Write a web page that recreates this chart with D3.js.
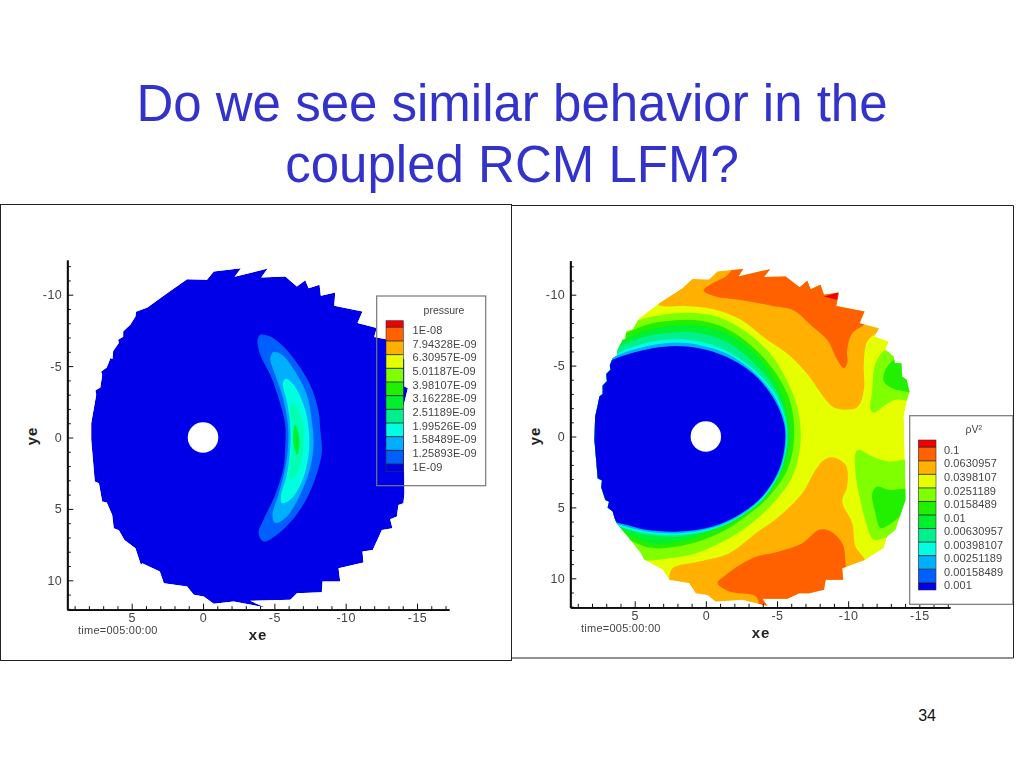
<!DOCTYPE html>
<html><head><meta charset="utf-8">
<style>html,body{margin:0;padding:0;background:#fff}svg{display:block}text{font-family:"Liberation Sans",Arial,sans-serif}</style>
<script src="https://cdnjs.cloudflare.com/ajax/libs/d3/7.8.5/d3.min.js"></script>
</head><body><svg id="c" width="1024" height="768"></svg>
<script>
const titleLines = ["Do we see similar behavior in the", "coupled RCM LFM?"];
const pageNumber = "34";
const timeLabel = "time=005:00:00";
const xMajorTicks = [5,0,-5,-10,-15];
const yMajorTicks = [-10,-5,0,5,10];
const pressureLevels = ["1E-08","7.94328E-09","6.30957E-09","5.01187E-09","3.98107E-09","3.16228E-09","2.51189E-09","1.99526E-09","1.58489E-09","1.25893E-09","1E-09"];
const rhoV2Levels = ["0.1","0.0630957","0.0398107","0.0251189","0.0158489","0.01","0.00630957","0.00398107","0.00251189","0.00158489","0.001"];
const bandColors = ["#f00000","#ff6000","#ffb000","#e6ff00","#80ff00","#20f000","#00f030","#00f090","#00ffe0","#00b0ff","#0060ff","#0000e8"];

// left field: pressure (xe, ye)
const pressureOutline = [[-0.75,-11.62],[-2.66,-11.86],[-2.22,-11.25],[-4.53,-11.83],[-4.08,-11.2],[-5.77,-11.27],[-6.58,-10.57],[-7.17,-11.02],[-7.4,-10.46],[-8.17,-10.69],[-8.26,-9.92],[-9.27,-10.15],[-9.2,-9.22],[-11.18,-8.82],[-10.83,-8.01],[-12.18,-7.66],[-12,-7.03],[-13,-6.84],[-14.12,-5.44],[-14.12,-3.57],[-14.36,-3.45],[-14.05,-2.17],[-14.12,3.9],[-14.05,4.6],[-13.7,4.72],[-13.59,5.53],[-13.12,5.72],[-13.28,6.35],[-12.54,6.47],[-11.9,7.87],[-11.18,7.98],[-11.25,8.75],[-9.5,9.15],[-9.62,10.08],[-8.38,10.08],[-8.33,10.83],[-6.58,10.9],[-6.12,11.37],[-3.31,11.44],[-4.37,11.9],[-2.15,11.48],[-0.75,11.65],[-0.05,11.13],[0.65,11.02],[1.12,10.43],[2.75,10.2],[3.03,9.38],[4.27,8.8],[4.35,8.95],[4.74,7.75],[5.51,7.17],[5.9,6.5],[6.26,6.35],[6.37,5.42],[6.75,4.55],[7.07,4.48],[7.3,3.2],[7.59,3.08],[7.84,0.16],[7.84,-1],[7.49,-2.99],[7.55,-3.3],[7.2,-3.5],[7.07,-4.39],[7.15,-4.6],[6.75,-4.9],[6.49,-5.56],[6.35,-5.5],[6.3,-6.05],[5.91,-6.61],[5.95,-6.85],[5.6,-7.05],[5.6,-7.42],[5.1,-7.9],[4.74,-8.47],[4.7,-8.8],[3.9,-9.1],[2.52,-10.11],[1.12,-11.09],[-0.28,-11.04]];
const pressureBand10 = [[-3.82,-6.84],[-4.01,-7.19],[-4.71,-7.07],[-5.64,-6.37],[-6.58,-5.21],[-7.51,-3.69],[-8.1,-1.82],[-8.21,-0.66],[-8.33,0.98],[-8.1,2.14],[-7.4,4.01],[-6.46,5.53],[-5.18,6.81],[-4.24,7.28],[-3.89,6.69],[-4.24,5.76],[-5.06,4.01],[-5.64,2.14],[-5.76,0.74],[-5.76,-0.89],[-5.29,-2.76],[-4.71,-4.39],[-4.01,-5.79]];
const pressureBand9 = [[-4.71,-5.56],[-4.95,-5.98],[-5.53,-5.79],[-6.46,-4.62],[-7.28,-2.99],[-7.63,-1.12],[-7.75,0.51],[-7.51,2.14],[-6.81,4.01],[-5.88,5.53],[-5.06,5.99],[-4.87,5.41],[-5.29,4.01],[-5.76,2.14],[-5.95,0.74],[-5.95,-0.89],[-5.6,-2.76],[-5.06,-4.39]];
const pressureBand8 = [[-5.6,-3.81],[-5.81,-4.11],[-6.35,-3.69],[-7.05,-2.29],[-7.4,-0.66],[-7.4,1.21],[-6.93,3.08],[-6.11,4.36],[-5.53,4.59],[-5.46,4.13],[-5.88,2.61],[-6.11,0.74],[-6.11,-0.89],[-5.88,-2.52]];
const pressureBand7 = [[-6.11,-2.29],[-6.35,-2.41],[-6.81,-1.59],[-7.05,-0.19],[-6.93,1.44],[-6.46,2.73],[-6.11,2.89],[-6.11,1.91],[-6.3,0.51],[-6.23,-0.89]];
const pressureBand6 = [[-6.46,-0.89],[-6.76,0.16],[-6.62,1.21],[-6.3,0.28]];

// right field: rho V^2 (xe, ye)
const rhoOutline = [[-0.82,-11.64],[-2.62,-11.82],[-2.29,-11.28],[-4.51,-11.8],[-4.09,-11.24],[-5.61,-11.28],[-6.59,-10.53],[-7.13,-10.98],[-7.36,-10.39],[-8.06,-10.7],[-8.3,-9.99],[-9.35,-10.15],[-9.16,-9.21],[-11.15,-8.82],[-10.8,-7.99],[-12.16,-7.64],[-11.87,-7.05],[-12.86,-6.7],[-12.62,-6.11],[-13.21,-5.64],[-13.28,-5.17],[-13.74,-5.17],[-13.79,-4.23],[-14.1,-4],[-14.31,-3.17],[-14.14,-2.59],[-13.91,-1.41],[-13.98,1.18],[-14.03,4.47],[-13.79,5.17],[-13.32,6.58],[-12.74,7.05],[-12.51,7.87],[-11.22,8.7],[-9.58,9.29],[-9.65,10.11],[-8.42,10.11],[-8.3,10.81],[-7.25,11.05],[-6.55,11.05],[-5.73,11.45],[-3.97,11.45],[-4.32,11.94],[-2.57,11.52],[-0.7,11.64],[-0.12,11.17],[0.7,11.05],[1.17,10.34],[2.57,10.11],[3.04,9.4],[4.32,8.7],[4.56,8.23],[5.49,7.05],[6.26,6.11],[6.4,5.8],[6.55,5.29],[6.9,5],[6.8,4.6],[7.06,4.47],[7.35,3.6],[7.3,3.1],[7.6,2.94],[7.83,0.24],[7.78,-1.41],[7.6,-2.2],[7.48,-2.82],[7.25,-3],[7.25,-3.6],[6.95,-3.9],[7,-4.4],[6.7,-4.7],[6.75,-5],[6.55,-5.52],[6.2,-5.75],[6.2,-6.1],[5.84,-6.82],[5.65,-6.85],[5.61,-7.4],[5.15,-7.55],[4.68,-8.35],[3.27,-9.4],[1.64,-10.46],[0.94,-11.1],[-0.23,-11.05]];
const rhoOrangeTop = [[3.39,-9.36],[1.4,-9.21],[-0.47,-9],[-2.34,-8.3],[-4.21,-6.9],[-5.84,-5.75],[-7.13,-4.4],[-8.42,-2.6],[-9.12,-2],[-10.64,-2.07],[-11.1,-3.29],[-11.1,-5.17],[-11.34,-6.7],[-12.27,-7.64],[-12.62,-9.64],[-2.81,-13.16],[3.04,-11.99]];
const rhoOrangeBottom = [[2.34,9.29],[0.47,8.82],[-1.64,8.23],[-3.51,6.82],[-5.14,5.64],[-6.78,4],[-7.71,2.35],[-8.3,1.65],[-8.88,1.46],[-9.82,2],[-9.93,3.53],[-9.58,4.58],[-10.29,6.11],[-10.52,7.76],[-11.22,8.82],[-11.22,11.52],[-2.81,12.46],[2.34,10.81],[2.57,9.99]];
const rhoDeepTop = [[0.16,-10.3],[-0.47,-10.81],[-1.4,-11.28],[-2.81,-12.69],[-9.82,-12.46],[-11.92,-9.64],[-11.22,-7.99],[-10.29,-7.29],[-9.93,-6.11],[-9.93,-5.17],[-9.7,-4.82],[-9.23,-5.41],[-8.53,-6.82],[-7.48,-7.76],[-6.08,-8.93],[-4.68,-9.21],[-2.34,-9.64],[-0.7,-9.87]];
const rhoDeepBottom = [[-0.82,10.34],[-1.4,9.76],[-3.27,8.58],[-5.14,8.11],[-6.78,7.52],[-7.95,6.58],[-8.65,6.63],[-9.58,7.52],[-9.82,8.93],[-9.82,10.34],[-7.48,12.46],[-3.97,12.46],[-3.51,11.28],[-1.64,10.93]];
const rhoRedPatch = [[-8.3,-9.87],[-9.3,-10.15],[-9.23,-9.64],[-8.88,-9.71]];
const rhoLimeUpper = [[-11.57,-1.88],[-11.69,-3.29],[-11.8,-4.7],[-12.16,-5.64],[-12.62,-6.11],[-13.28,-6.23],[-14.49,-4.94],[-14.49,-2.63],[-13.32,-2.59],[-12.62,-2.23],[-11.8,-1.69]];
const rhoGreenUpper = [[-12.51,-3.88],[-12.62,-4.7],[-13.32,-5.41],[-14.73,-4.47],[-14.73,-3.06],[-14.03,-3.17],[-13.09,-3.41]];
const rhoLimeLower = [[-10.52,1.18],[-10.75,0.94],[-11.69,1.41],[-12.86,1.76],[-14.49,1.76],[-14.49,6.82],[-12.51,7.17],[-11.8,7.29],[-11.34,6.35],[-10.75,4],[-10.52,2.59]];
const rhoGreenLower = [[-11.69,4],[-12.04,3.53],[-12.86,3.76],[-14.49,3.76],[-14.03,5.17],[-12.86,6.23],[-12.27,6.46],[-11.92,5.41]];
const rhoRingLime = [[6.5,-7.4],[4.73,-8.2],[3.27,-8.55],[1.17,-8.72],[-0.94,-8.4],[-2.81,-7.4],[-4.6,-5.75],[-5.7,-3.95],[-6.45,-2],[-6.66,0.24],[-6.19,2.59],[-5.14,4.23],[-3.51,5.88],[-1.64,7.17],[0.7,8.23],[3.04,8.65],[4.32,8.74],[6.55,8.4],[11,0]];
const rhoRingGreen = [[7.5,-6.3],[5.61,-7.29],[4.21,-7.87],[2.34,-8.18],[0.47,-8.18],[-1.4,-7.64],[-3.27,-6.35],[-4.91,-4.47],[-5.96,-2.35],[-6.19,0.24],[-5.73,2.35],[-4.44,4.23],[-2.81,5.64],[-0.94,6.82],[1.4,7.64],[3.74,7.87],[5.14,7.4],[7,6.3],[11,0]];
const rhoRingEmerald = [[7.5,-5.9],[5.73,-6.82],[4.21,-7.47],[2.34,-7.8],[0.47,-7.8],[-1.4,-7.29],[-3.27,-5.99],[-4.68,-4.23],[-5.61,-2.12],[-5.89,0.24],[-5.42,2.12],[-4.21,4],[-2.57,5.29],[-0.7,6.46],[1.4,7.29],[3.74,7.52],[5.61,6.82],[7.5,5.8],[11,0]];
const rhoRingSpring = [[8,-5.4],[6.08,-6.35],[4.21,-7.05],[2.34,-7.33],[0.47,-7.29],[-1.4,-6.7],[-3.27,-5.29],[-4.91,-3.29],[-5.66,-1.18],[-5.73,0.47],[-5.26,2.35],[-4.09,4.35],[-2.34,5.64],[-0.47,6.58],[1.87,7.05],[4.21,6.93],[5.84,6.46],[8,5.6],[11,0]];
const rhoRingCyan = [[8,-5.1],[6.43,-5.76],[5.38,-6.23],[3.74,-6.7],[2.1,-6.86],[0.47,-6.7],[-1.4,-6.06],[-3.39,-4.7],[-4.91,-2.94],[-5.61,-1.06],[-5.68,0.47],[-5.26,2.4],[-4.09,4.3],[-2.45,5.64],[-0.54,6.53],[1.87,6.93],[4.21,6.82],[5.96,6.39],[8,5.6],[11,0]];
const rhoRingAzure = [[8,-5],[6.5,-5.59],[5.38,-6.04],[3.74,-6.46],[2.1,-6.63],[0.47,-6.46],[-1.4,-5.88],[-3.32,-4.58],[-4.79,-2.87],[-5.56,-0.99],[-5.63,0.47],[-5.21,2.37],[-4.02,4.25],[-2.38,5.59],[-0.49,6.44],[1.87,6.82],[4.21,6.7],[5.8,6.3],[8,5.55],[11,0]];
const rhoCore = [[8,-4.85],[6.55,-5.41],[5.38,-5.83],[3.74,-6.23],[2.1,-6.39],[0.47,-6.23],[-1.4,-5.64],[-3.27,-4.47],[-4.68,-2.82],[-5.49,-0.94],[-5.56,0.47],[-5.14,2.35],[-3.97,4.23],[-2.34,5.52],[-0.47,6.35],[1.87,6.7],[4.21,6.58],[5.61,6.23],[6.26,6.06],[8,5.5],[11,0]];
const holeRadius = 1.07;

const svg = d3.select("#c");
const defs = svg.append("defs");
defs.append("filter").attr("id","soft").append("feGaussianBlur").attr("stdDeviation",0.45);

svg.append("text").attr("x",512).attr("y",121).attr("text-anchor","middle").attr("font-size",51).attr("fill","#3333cc").text(titleLines[0]);
svg.append("text").attr("x",512).attr("y",182).attr("text-anchor","middle").attr("font-size",51).attr("fill","#3333cc").text(titleLines[1]);
svg.append("text").attr("x",936).attr("y",721).attr("text-anchor","end").attr("font-size",16).attr("fill","#111").text(pageNumber);

function panel(o){
  const x = d3.scaleLinear().domain([5,-15]).range(o.xr);
  const y = d3.scaleLinear().domain([-10,10]).range(o.yr);
  const dom = {x:[x.invert(o.left),x.invert(o.right)], y:[y.invert(o.top),y.invert(o.bottom)]};
  const g = svg.append("g");
  const plot = g.append("g").attr("filter","url(#soft)");
  const smooth = d3.line().x(d=>x(d[0])).y(d=>y(d[1])).curve(d3.curveCatmullRomClosed.alpha(0.5));
  const sharp = d3.line().x(d=>x(d[0])).y(d=>y(d[1])).curve(d3.curveLinearClosed);
  defs.append("clipPath").attr("id",o.id).append("path").attr("d",sharp(o.outline));
  const clip = plot.append("g").attr("clip-path",`url(#${o.id})`);
  clip.append("path").attr("d",sharp(o.outline)).attr("fill",o.base);
  clip.selectAll("path.l").data(o.layers).join("path").attr("class","l")
    .attr("d",d=>(d.sharp?sharp:smooth)(d.pts)).attr("fill",d=>d.fill||bandColors[d.c]);
  plot.append("circle").attr("cx",x(0)).attr("cy",y(0)).attr("r",Math.abs(x(holeRadius)-x(0))).attr("fill","#fff");

  // axes
  const ax = g.append("g").attr("filter","url(#soft)");
  const xs = d3.scaleLinear().domain(dom.x).range([o.left,o.right]);
  const ys = d3.scaleLinear().domain(dom.y).range([o.top,o.bottom]);
  const minorX = d3.range(Math.ceil(dom.x[1]),Math.floor(dom.x[0])+1).filter(v=>v%5!==0);
  const minorY = d3.range(Math.ceil(dom.y[0]),Math.floor(dom.y[1])+1).filter(v=>v%5!==0);
  const xa = ax.append("g").attr("transform",`translate(0,${o.bottom})`);
  xa.call(d3.axisBottom(xs).tickValues(minorX).tickSize(-3.5).tickSizeOuter(0).tickFormat(""));
  const xb = ax.append("g").attr("transform",`translate(0,${o.bottom})`);
  xb.call(d3.axisBottom(xs).tickValues(xMajorTicks).tickSizeInner(-6).tickSizeOuter(0).tickPadding(3.5).tickFormat(d=>String(d)));
  const ya = ax.append("g").attr("transform",`translate(${o.left},0)`);
  ya.call(d3.axisLeft(ys).tickValues(minorY).tickSize(-3.5).tickSizeOuter(0).tickFormat(""));
  const yb = ax.append("g").attr("transform",`translate(${o.left},0)`);
  yb.call(d3.axisLeft(ys).tickValues(yMajorTicks).tickSizeInner(-6).tickSizeOuter(0).tickPadding(5).tickFormat(d=>String(d)));
  ax.selectAll(".domain").attr("stroke","#111").attr("stroke-width",1.8);
  ax.selectAll(".tick line").attr("stroke","#111").attr("stroke-width",1);
  ax.selectAll(".tick text").attr("font-size",12.5).attr("fill","#444").attr("font-family","Liberation Sans").attr("letter-spacing",0.5);

  g.append("text").attr("x",o.xLabel[0]).attr("y",o.xLabel[1]).attr("text-anchor","middle").attr("font-size",15).attr("font-weight","bold").attr("letter-spacing",1).attr("fill","#222").text("xe");
  g.append("text").attr("transform",`translate(${o.yLabel[0]},${o.yLabel[1]}) rotate(-90)`).attr("text-anchor","middle").attr("font-size",15).attr("font-weight","bold").attr("letter-spacing",1).attr("fill","#222").text("ye");
  g.append("text").attr("x",o.time[0]).attr("y",o.time[1]).attr("font-size",11).attr("letter-spacing",0.25).attr("fill","#444").text(timeLabel);

  // legend
  const L = o.legend;
  g.append("rect").attr("x",L.x).attr("y",L.y).attr("width",L.w).attr("height",L.h).attr("fill",L.fill).attr("stroke","#777").attr("stroke-width",1.2);
  g.append("text").attr("x",L.titleX).attr("y",L.titleY).attr("text-anchor","middle").attr("font-size",10.5).attr("fill","#444").text(L.title);
  const ly = d3.scaleLinear().domain([0,L.levels.length-1]).range(L.lines);
  const step = ly(1)-ly(0);
  const cells = bandColors.map((c,i)=>({c, y0: i===0?L.barTop:ly(i-1), y1: i===bandColors.length-1?L.barBottom:ly(i)}));
  g.selectAll("rect.cell"+o.id).data(cells).join("rect").attr("x",L.barX).attr("width",L.barW)
    .attr("y",d=>d.y0).attr("height",d=>d.y1-d.y0).attr("fill",d=>d.c);
  g.selectAll("line.lv"+o.id).data(L.levels).join("line").attr("x1",L.barX).attr("x2",L.barX+L.barW)
    .attr("y1",(d,i)=>ly(i)).attr("y2",(d,i)=>ly(i)).attr("stroke","#222").attr("stroke-width",0.8);
  g.append("rect").attr("x",L.barX).attr("y",L.barTop).attr("width",L.barW).attr("height",L.barBottom-L.barTop).attr("fill","none").attr("stroke","#333").attr("stroke-width",0.6);
  g.selectAll("text.lb"+o.id).data(L.levels).join("text").attr("x",L.labelX).attr("y",(d,i)=>ly(i)+step*0.2+3.9)
    .attr("font-size",11).attr("letter-spacing",0.1).attr("fill","#444").text(d=>d);
}

panel({id:"cl",xr:[131.7,417],yr:[294.7,580.3],left:67.3,right:449,top:260,bottom:609.7,
  outline:pressureOutline,base:bandColors[11],
  layers:[{pts:pressureBand10,c:10},{pts:pressureBand9,c:9},{pts:pressureBand8,c:8},{pts:pressureBand7,c:7,fill:"#00ffb0"},{pts:pressureBand6,c:6}],
  xLabel:[258,640],yLabel:[37,436],time:[78,634],
  legend:{x:376.7,y:296,w:109,h:189.7,fill:"none",title:"pressure",titleX:444,titleY:314,levels:pressureLevels,lines:[327.3,464],barTop:320.7,barBottom:471.7,barX:386,barW:17.3,labelX:412.5}});

panel({id:"cr",xr:[634.7,919.3],yr:[294.7,578.3],left:570.3,right:950,top:260.7,bottom:607.3,
  outline:rhoOutline,base:bandColors[3],
  layers:[{pts:rhoOrangeTop,c:2},{pts:rhoOrangeBottom,c:2},{pts:rhoDeepTop,c:1},{pts:rhoDeepBottom,c:1},{pts:rhoRedPatch,c:0,sharp:true},
    {pts:rhoLimeUpper,c:4},{pts:rhoGreenUpper,c:5},{pts:rhoLimeLower,c:4},{pts:rhoGreenLower,c:5},
    {pts:rhoRingLime,c:4},{pts:rhoRingGreen,c:5},{pts:rhoRingEmerald,c:6},{pts:rhoRingSpring,c:7},{pts:rhoRingCyan,c:8},{pts:rhoRingAzure,c:9},{pts:rhoCore,c:11}],
  xLabel:[761,638],yLabel:[540,436],time:[581,632],
  legend:{x:909.7,y:415.7,w:103.3,h:188.6,fill:"#fff",title:"ρV²",titleX:973.7,titleY:433,levels:rhoV2Levels,lines:[447.3,582.7],barTop:440,barBottom:590,barX:918.3,barW:17.7,labelX:944}});

// slide frames
const frames = svg.append("g").attr("fill","none").attr("stroke","#222").attr("stroke-width",1);
frames.append("path").attr("d",d3.line()([[512,205.5],[1013.5,205.5],[1013.5,658],[512,658]]));
frames.append("rect").attr("x",0.5).attr("y",204.5).attr("width",511).attr("height",456);
</script></body></html>
